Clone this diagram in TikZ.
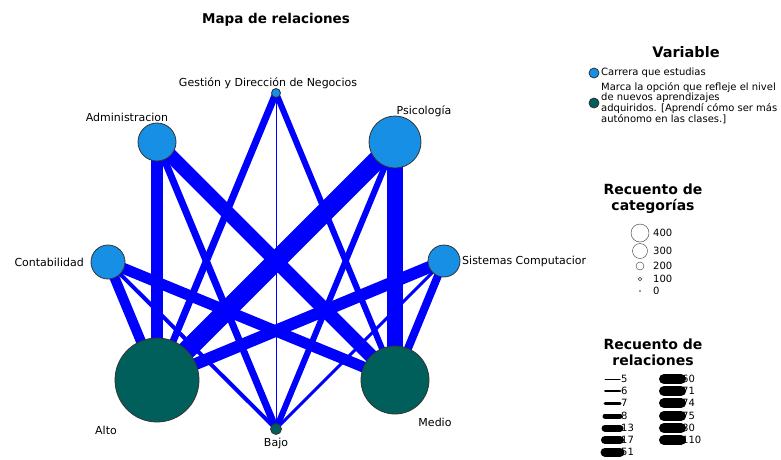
\documentclass[tikz,border=0pt]{standalone}
\usepackage{fontspec}
\setmainfont{DejaVu Sans}
\usetikzlibrary{backgrounds}
\definecolor{carrera}{RGB}{22,143,228}
\definecolor{nivel}{RGB}{0,94,91}
\definecolor{enlace}{RGB}{0,0,255}
\tikzset{
  carr/.style={circle, draw=black!80, line width=.8pt, fill=carrera, inner sep=0pt, minimum size=#1},
  niv/.style={circle, draw=black!80, line width=.8pt, fill=nivel, inner sep=0pt, minimum size=#1},
  lbl/.style={font=\fontsize{11}{13}\selectfont, inner sep=0pt},
  leg/.style={font=\fontsize{10}{11}\selectfont, inner sep=0pt},
  head/.style={font=\fontsize{14}{16}\selectfont\bfseries, inner sep=0pt, align=center},
  rel/.style={draw=enlace, line width=#1},
}
\begin{document}
\begin{tikzpicture}[x=1pt, y=-1pt]
\useasboundingbox (0,0) rectangle (781,459);
\node[head, font=\fontsize{13.5}{15}\selectfont\bfseries] (titulo) at (276,20) {Mapa de relaciones};
\node[carr=9] (ges) at (276,93) {};
\node[carr=38] (adm) at (157,142) {};
\node[carr=52] (psi) at (395,142) {};
\node[carr=34] (con) at (108,262) {};
\node[carr=32] (sis) at (444,261) {};
\node[niv=84] (alto) at (157,380) {};
\node[niv=68] (medio) at (395,380) {};
\node[niv=11] (bajo) at (276,429) {};
\begin{scope}[on background layer]
\draw[rel=12] (adm.center) -- (alto.center);
\draw[rel=14] (adm.center) -- (medio.center);
\draw[rel=7] (adm.center) -- (bajo.center);
\draw[rel=7] (ges.center) -- (alto.center);
\draw[rel=6] (ges.center) -- (medio.center);
\draw[rel=1] (ges.center) -- (bajo.center);
\draw[rel=19] (psi.center) -- (alto.center);
\draw[rel=16] (psi.center) -- (medio.center);
\draw[rel=6] (psi.center) -- (bajo.center);
\draw[rel=10] (con.center) -- (alto.center);
\draw[rel=11] (con.center) -- (medio.center);
\draw[rel=4] (con.center) -- (bajo.center);
\draw[rel=12] (sis.center) -- (alto.center);
\draw[rel=8] (sis.center) -- (medio.center);
\draw[rel=3] (sis.center) -- (bajo.center);
\end{scope}
\node[lbl] (lges) at (268,83) {Gestión y Dirección de Negocios};
\node[lbl] (ladm) at (127,117) {Administracion};
\node[lbl] (lpsi) at (424,111) {Psicología};
\node[lbl, anchor=east] (lcon) at (84,262) {Contabilidad};
\node[lbl, anchor=west] (lsis) at (462,261) {Sistemas Computacior};
\node[lbl] (lalto) at (106,430) {Alto};
\node[lbl] (lbajo) at (276,443) {Bajo};
\node[lbl] (lmedio) at (435,422) {Medio};
\node[head, font=\fontsize{14.5}{16}\selectfont\bfseries] (hvar) at (686,52) {Variable};
\node[carr=10] (vcar) at (594,73) {};
\node[leg, anchor=west] (tcar) at (601,73) {Carrera que estudias};
\node[niv=10] (vniv) at (594,103) {};
\node[leg, anchor=north west, align=left, font=\fontsize{10}{10}\selectfont] (tniv) at (601,82)
  {Marca la opción que refleje el nivel\\de nuevos aprendizajes\\adquiridos. [Aprendí cómo ser más\\autónomo en las clases.]};
\node[head] (hcat) at (653,199) {Recuento de\\categorías};
\foreach \d/\y/\v in {18/233/400, 15/251/300, 8/266/200, 3.5/279/100, 1/291/0} {
  \node[circle, draw=black!80, fill=white, inner sep=0pt, minimum size=\d] (c\v) at (640,\y) {};
  \node[leg, anchor=west] (n\v) at (653,\y) {\v};
}
\node[head] (hrel) at (653,352) {Recuento de\\relaciones};
\foreach \w/\y/\v in {1/379/5, 2/391/6, 3/403/7, 5/416/8, 7/428/13, 8/440/17, 9/452/51} {
  \draw[line width=\w, line cap=round] (605,\y) -- (620,\y);
  \node[leg, anchor=west] (r\v) at (621,\y) {\v};
}
\foreach \y/\v in {379/60, 391/71, 403/74, 416/75, 428/80, 440/110} {
  \draw[line width=10, line cap=round] (664,\y) -- (681,\y);
  \node[leg, anchor=west] (r\v) at (682,\y) {\v};
}
\end{tikzpicture}
\end{document}
